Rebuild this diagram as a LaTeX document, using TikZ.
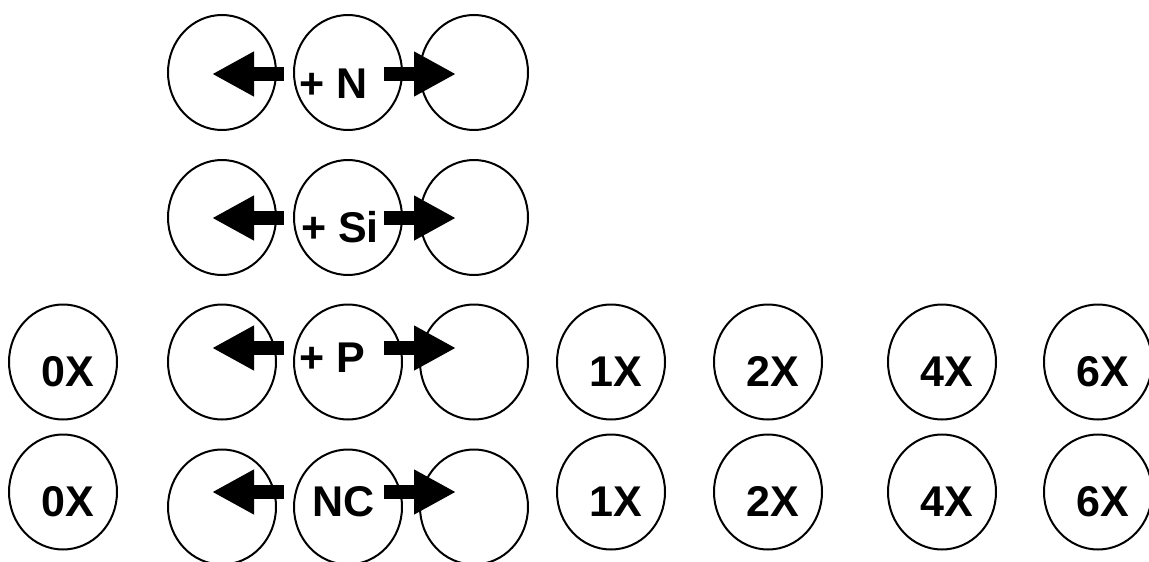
\documentclass[tikz,border=0pt]{standalone}
\usepackage{fontspec}
\setmainfont{Liberation Sans}
\usetikzlibrary{shapes.geometric,arrows.meta}

\tikzset{
  ring/.style={draw=black, line width=2pt, ellipse, inner sep=0pt,
    minimum width=108pt, minimum height=115pt},
  tag/.style={inner sep=0pt, anchor=base,
    font=\fontsize{43}{50}\selectfont\bfseries},
  push/.style={line width=13.5pt, line cap=butt,
    -{Triangle[length=42pt, width=42pt]}}
}

\begin{document}
\begin{tikzpicture}[x=1pt, y=-1pt]
\useasboundingbox (0,0) rectangle (1149,562);

% three-ring groups: row / ring centre y / arrow y / label / label x / baseline
\foreach \r/\cy/\ay/\lab/\lx/\by in {
    1/72.5/74/{+ N}/333.5/98,
    2/217.5/218/{+ Si}/340/242,
    3/362/348/{+ P}/332.5/372,
    4/507/492/{NC}/344/516}{
  \node[ring] (l\r) at (222,\cy) {};
  \node[ring] (m\r) at (348,\cy) {};
  \node[ring] (r\r) at (474,\cy) {};
  \node[tag] (t\r) at (\lx,\by) {\lab};
  \coordinate (ls\r) at (284,\ay);
  \coordinate (lt\r) at (212,\ay);
  \coordinate (rs\r) at (384,\ay);
  \coordinate (rt\r) at (456,\ay);
  \draw[push] (ls\r) -- (lt\r);
  \draw[push] (rs\r) -- (rt\r);
}

% single labelled rings on the two lower rows
\foreach \r/\cy/\by in {3/362/386, 4/492/516}{
  \foreach \k/\cx/\lab in {a/63/0X, b/611/1X, c/768/2X, d/942/4X, e/1098/6X}{
    \node[ring] (s\k\r) at (\cx,\cy) {};
    \node[tag, xshift=5pt] (u\k\r) at (\cx,\by) {\lab};
  }
}
\end{tikzpicture}
\end{document}
